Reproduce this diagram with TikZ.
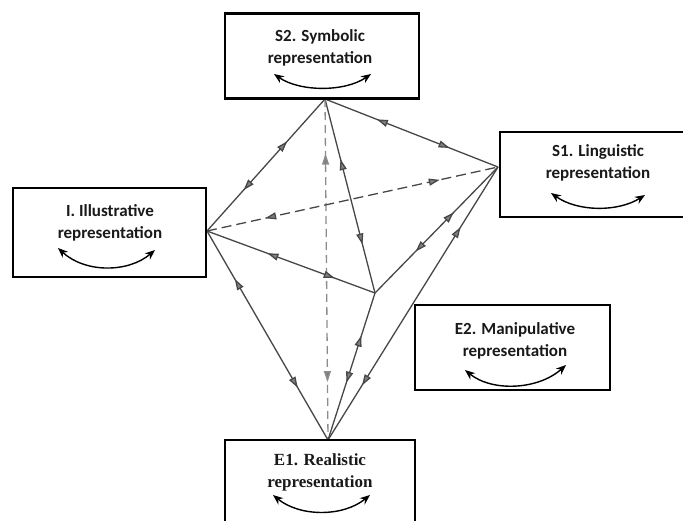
\documentclass[tikz,border=0pt]{standalone}
\usepackage{fontspec}
\setmainfont{Liberation Serif}
\newfontfamily\calfam{Carlito}
\usetikzlibrary{arrows.meta,decorations.markings}
\begin{document}
\begin{tikzpicture}[x=1pt,y=-1pt,
 box/.style={draw=black,line width=2.6pt,inner sep=0pt,fill=white},
 lbl/.style={align=center,text=black!90,inner sep=0pt},
 sanslbl/.style={lbl,font=\calfam\fontsize{17}{22}\selectfont\bfseries},
 seriflbl/.style={lbl,font=\rmfamily\fontsize{17}{22}\selectfont\bfseries},
 cyc/.style={line width=1.4pt,{Stealth[length=10pt,width=8pt]}-{Stealth[length=10pt,width=8pt]}},
 edge/.style={draw=black!72,line width=1.3pt},
 dsh/.style={edge,dash pattern=on 10pt off 5pt},
 vdsh/.style={draw=black!45,line width=1.3pt,dash pattern=on 8pt off 5pt},
 dbl/.style 2 args={postaction={solid,decorate,decoration={markings,
   mark=at position #1 with {\arrowreversed{Triangle[length=11pt,width=7pt,fill=black!50]}},
   mark=at position #2 with {\arrow{Triangle[length=11pt,width=7pt,fill=black!50]}}}}}
]
\useasboundingbox (0,0) rectangle (683,520);
\clip (0,0) rectangle (683,520);

% vertices
\coordinate (A) at (325,99);
\coordinate (I) at (207,231);
\coordinate (S) at (498,167);
\coordinate (M) at (375,293);
\coordinate (E) at (328,440);

% edges
\draw[edge,dbl={0.32}{0.69}] (A) -- (I);
\draw[edge,dbl={0.30}{0.72}] (A) -- (S);
\draw[edge,dbl={0.31}{0.75}] (A) -- (M);
\draw[vdsh,dbl={0.16}{0.83}] (A) -- (E);
\draw[dsh,dbl={0.20}{0.80}] (I) -- (S);
\draw[edge,dbl={0.36}{0.76}] (I) -- (M);
\draw[edge,dbl={0.23}{0.75}] (I) -- (E);
\draw[edge,dbl={0.33}{0.64}] (M) -- (S);
\draw[edge,dbl={0.29}{0.61}] (M) -- (E);
\draw[edge,dbl={0.22}{0.80}] (S) -- (E);

% boxes
\node[box,minimum width=194pt,minimum height=85pt] (s2box) at (322,56) {};
\node[box,minimum width=193pt,minimum height=89pt] (ibox) at (109.5,232.5) {};
\node[box,minimum width=220pt,minimum height=85pt] (s1box) at (610,174.5) {};
\node[box,minimum width=195pt,minimum height=85pt] (e2box) at (512.5,347.5) {};
\node[box,minimum width=190pt,minimum height=100pt] (e1box) at (320,490) {};

% labels
\node[sanslbl] (s2) at (320,48) {S2. Symbolic\\representation};
\node[sanslbl] (il) at (110,222.5) {I. Illustrative\\representation};
\node[sanslbl] (s1) at (598,162.5) {S1. Linguistic\\representation};
\node[sanslbl] (e2) at (515,341) {E2. Manipulative\\representation};
\node[seriflbl] (e1) at (320,472.5) {E1. Realistic\\representation};

% cycle arrows
\draw[cyc] (274,74) .. controls (300,92) and (345,92) .. (371,74);
\draw[cyc] (58,248) .. controls (85,273) and (128,273) .. (155,250);
\draw[cyc] (551,193) .. controls (578,212) and (618,212) .. (645,195);
\draw[cyc] (465,370) .. controls (492,392) and (538,390) .. (566,365);
\draw[cyc] (273,495) .. controls (300,517) and (343,517) .. (370,495);
\end{tikzpicture}
\end{document}
